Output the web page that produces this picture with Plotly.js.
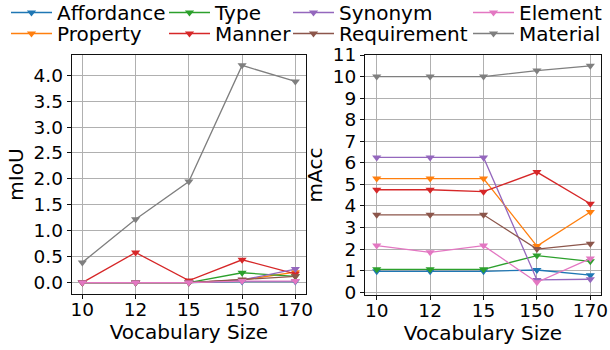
<!DOCTYPE html>
<html><head><meta charset="utf-8">
<script src="https://cdn.plot.ly/plotly-3.0.1.min.js"></script>
<style>html,body{margin:0;padding:0;background:#fff}</style>
</head><body><div id="chart" style="width:610px;height:350px"></div>
<script>
const categories = ['10','12','15','150','170'];
const seriesNames = ['Affordance','Property','Type','Manner','Synonym','Requirement','Element','Material'];
const colors = ['#1f77b4','#ff7f0e','#2ca02c','#d62728','#9467bd','#8c564b','#e377c2','#7f7f7f'];

// mIoU values (left panel)
const mIoU_Affordance  = [0.0, 0.0, 0.0, 0.02, 0.02];
const mIoU_Property    = [0.0, 0.0, 0.0, 0.05, 0.20];
const mIoU_Type        = [0.0, 0.0, 0.0, 0.19, 0.12];
const mIoU_Manner      = [0.0, 0.58, 0.04, 0.44, 0.17];
const mIoU_Synonym     = [0.0, 0.0, 0.0, 0.05, 0.26];
const mIoU_Requirement = [0.0, 0.0, 0.0, 0.06, 0.12];
const mIoU_Element     = [0.0, 0.0, 0.0, 0.03, 0.03];
const mIoU_Material    = [0.39, 1.22, 1.95, 4.19, 3.88];

// mAcc values (right panel)
const mAcc_Affordance  = [0.97, 0.97, 0.97, 1.03, 0.79];
const mAcc_Property    = [5.27, 5.27, 5.27, 2.14, 3.72];
const mAcc_Type        = [1.06, 1.06, 1.06, 1.70, 1.43];
const mAcc_Manner      = [4.75, 4.75, 4.66, 5.57, 4.10];
const mAcc_Synonym     = [6.25, 6.25, 6.25, 0.57, 0.60];
const mAcc_Requirement = [3.59, 3.59, 3.59, 2.00, 2.25];
const mAcc_Element     = [2.16, 1.85, 2.16, 0.46, 1.56];
const mAcc_Material    = [10.0, 10.0, 10.0, 10.28, 10.5];

const mIoU = [mIoU_Affordance, mIoU_Property, mIoU_Type, mIoU_Manner, mIoU_Synonym, mIoU_Requirement, mIoU_Element, mIoU_Material];
const mAcc = [mAcc_Affordance, mAcc_Property, mAcc_Type, mAcc_Manner, mAcc_Synonym, mAcc_Requirement, mAcc_Element, mAcc_Material];

const traces = [];
seriesNames.forEach((n,i)=>{
  traces.push({x:categories, y:mIoU[i], name:n, type:'scatter', mode:'lines+markers',
    line:{color:colors[i], width:1.3}, marker:{symbol:'triangle-down', size:8, color:colors[i]},
    xaxis:'x', yaxis:'y', legend: i===0 ? 'legend' : 'legend'+(i+1), showlegend:true});
});
seriesNames.forEach((n,i)=>{
  traces.push({x:categories, y:mAcc[i], name:n, type:'scatter', mode:'lines+markers',
    line:{color:colors[i], width:1.3}, marker:{symbol:'triangle-down', size:8, color:colors[i]},
    xaxis:'x2', yaxis:'y2', showlegend:false});
});

const F = 'DejaVu Sans, sans-serif';
const axCommon = {showline:true, mirror:true, linecolor:'#111', linewidth:1,
  showgrid:true, gridcolor:'#b0b0b0', gridwidth:1, ticks:'outside', ticklen:4, tickcolor:'#111',
  tickfont:{family:F, size:18.5, color:'#000'}, zeroline:false, automargin:false};
const titleFont = {family:F, size:20, color:'#000'};

const legCommon = {orientation:'v', font:{family:F, size:20, color:'#000'}, bgcolor:'rgba(0,0,0,0)',
  yanchor:'middle', xanchor:'left', tracegroupgap:0, borderwidth:0, itemwidth:41};
// column-major placement (matplotlib ncol=4)
const legX = [6, 6, 164, 164, 288, 288, 468, 468];
const legY = [12.5, 33.5, 12.5, 33.5, 12.5, 33.5, 12.5, 33.5];

const layout = {
  width:610, height:350, margin:{l:0,r:0,t:0,b:0,autoexpand:false}, paper_bgcolor:'#fff', plot_bgcolor:'#fff',
  font:{family:F},
  xaxis:Object.assign({}, axCommon, {type:'category', domain:[71.7/610, 306/610], range:[-0.2,4.2], anchor:'y',
    ticklabelstandoff:-5, title:{text:'Vocabulary Size', font:titleFont, standoff:2}}),
  yaxis:Object.assign({}, axCommon, {domain:[(350-294)/350, (350-55)/350], range:[-0.22,4.39], dtick:0.5, tickformat:'.1f', anchor:'x',
    title:{text:'mIoU', font:titleFont, standoff:4}}),
  xaxis2:Object.assign({}, axCommon, {type:'category', domain:[365/610, 601/610], range:[-0.22,4.2], anchor:'y2',
    ticklabelstandoff:-5, title:{text:'Vocabulary Size', font:titleFont, standoff:2}}),
  yaxis2:Object.assign({}, axCommon, {domain:[(350-295)/350, (350-55)/350], range:[-0.13,11], dtick:1, anchor:'x2',
    title:{text:'mAcc', font:titleFont, standoff:4}}),
  showlegend:true
};
for (let i=0;i<8;i++){
  const key = i===0 ? 'legend' : 'legend'+(i+1);
  layout[key] = Object.assign({}, legCommon, {x:legX[i]/610, y:1-legY[i]/350});
}
Plotly.newPlot('chart', traces, layout, {displayModeBar:false, staticPlot:true});
</script></body></html>
